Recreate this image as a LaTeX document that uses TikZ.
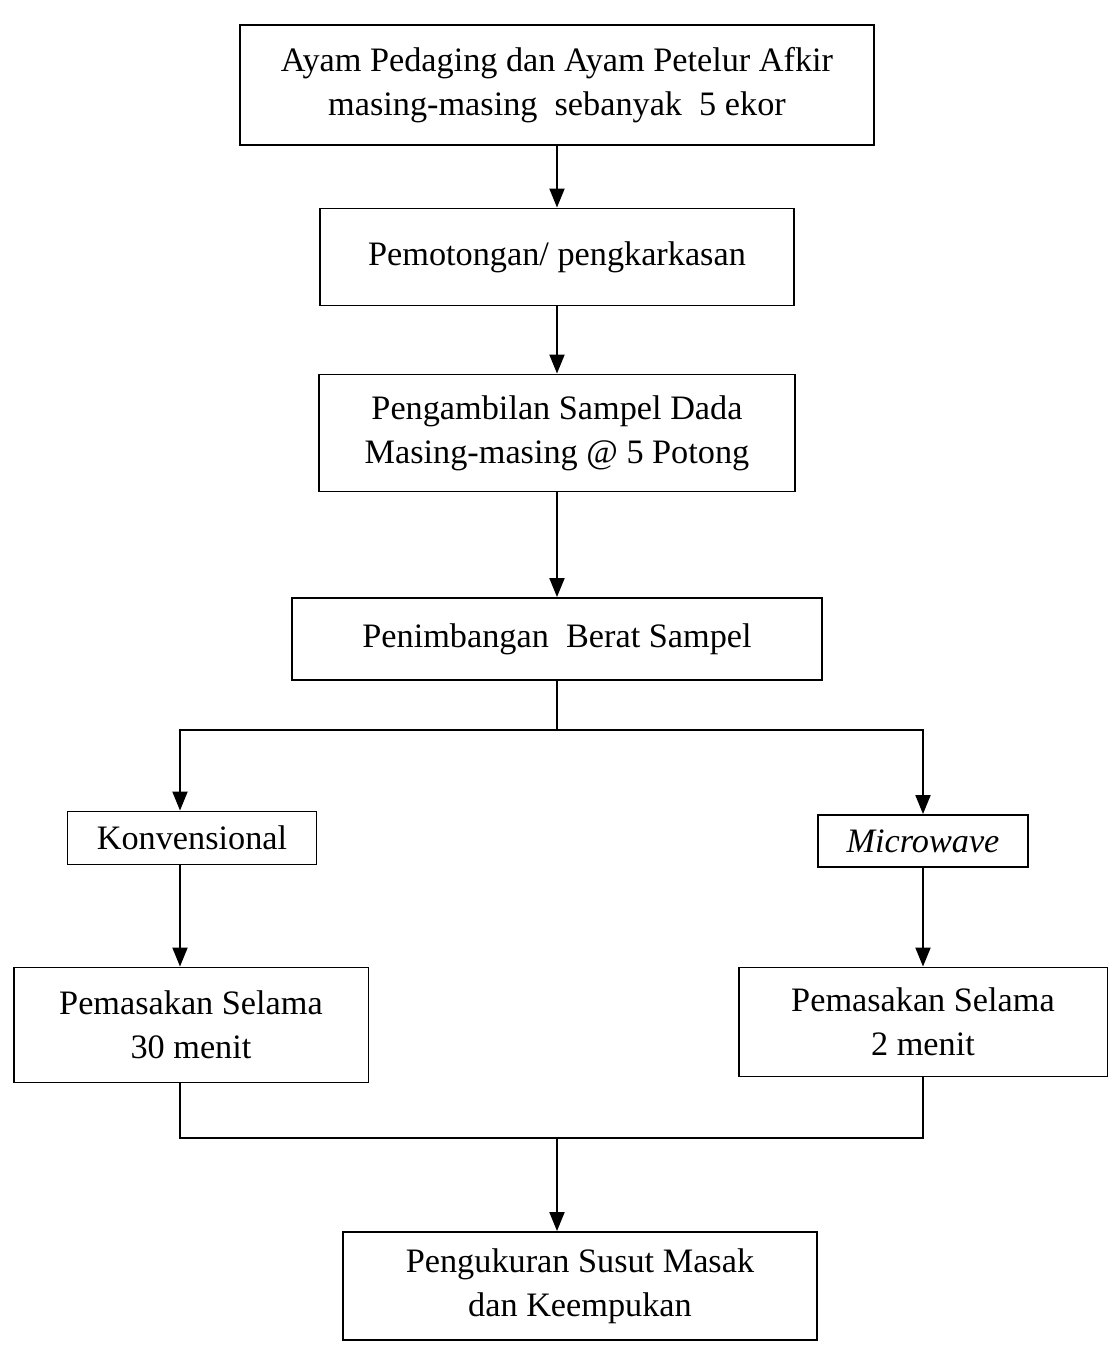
\documentclass[tikz,border=0pt]{standalone}
\usepackage{fontspec}
\setmainfont{Liberation Serif}
\usetikzlibrary{arrows.meta}
\begin{document}
\begin{tikzpicture}[x=0.02cm,y=-0.02cm,
  box/.style={draw, line width=1.1pt, align=center, inner sep=0pt,
    font=\fontsize{19.5}{25}\selectfont},
  line/.style={line width=1.1pt},
  arr/.style={line width=1.1pt, -{Triangle[length=0.38cm,width=0.3cm]}}]
\useasboundingbox (0,0) rectangle (1112,1347);
\node[box, minimum width=12.7cm, minimum height=2.4cm] (n1) at (557,85)
  {Ayam Pedaging dan Ayam Petelur Afkir\\masing-masing\ \ sebanyak\ \ 5 ekor};
\node[box, minimum width=9.5cm, minimum height=1.94cm] (n2) at (557,257)
  {Pemotongan/ pengkarkasan};
\node[box, minimum width=9.54cm, minimum height=2.34cm] (n3) at (557,433)
  {Pengambilan Sampel Dada\\Masing-masing @ 5 Potong};
\node[box, minimum width=10.6cm, minimum height=1.64cm] (n4) at (557,639)
  {Penimbangan\ \ Berat Sampel};
\node[box, minimum width=4.98cm, minimum height=1.06cm] (n5) at (192,838)
  {Konvensional};
\node[box, minimum width=4.2cm, minimum height=1.04cm] (n6) at (923,841)
  {\itshape Microwave};
\node[box, minimum width=7.1cm, minimum height=2.3cm] (n7) at (191,1025)
  {Pemasakan Selama\\30 menit};
\node[box, minimum width=7.38cm, minimum height=2.18cm] (n8) at (923,1022)
  {Pemasakan Selama\\2 menit};
\node[box, minimum width=9.5cm, minimum height=2.16cm] (n9) at (580,1286)
  {Pengukuran Susut Masak\\dan Keempukan};
\draw[arr] (n1) -- (n2);
\draw[arr] (n2) -- (n3);
\draw[arr] (n3) -- (n4);
\coordinate (sp) at (557,730);
\draw[line] (n4) -- (sp);
\draw[arr] (sp) -| (n5.north -| 180,0);
\draw[arr] (sp) -| (n6);
\draw[arr] (n5.south -| 180,0) -- (n7.north -| 180,0);
\draw[arr] (n6) -- (n8);
\coordinate (mg) at (557,1138);
\draw[line] (n7.south -| 180,0) |- (mg);
\draw[line] (n8) |- (mg);
\draw[arr] (mg) -- (mg |- n9.north);
\end{tikzpicture}
\end{document}
